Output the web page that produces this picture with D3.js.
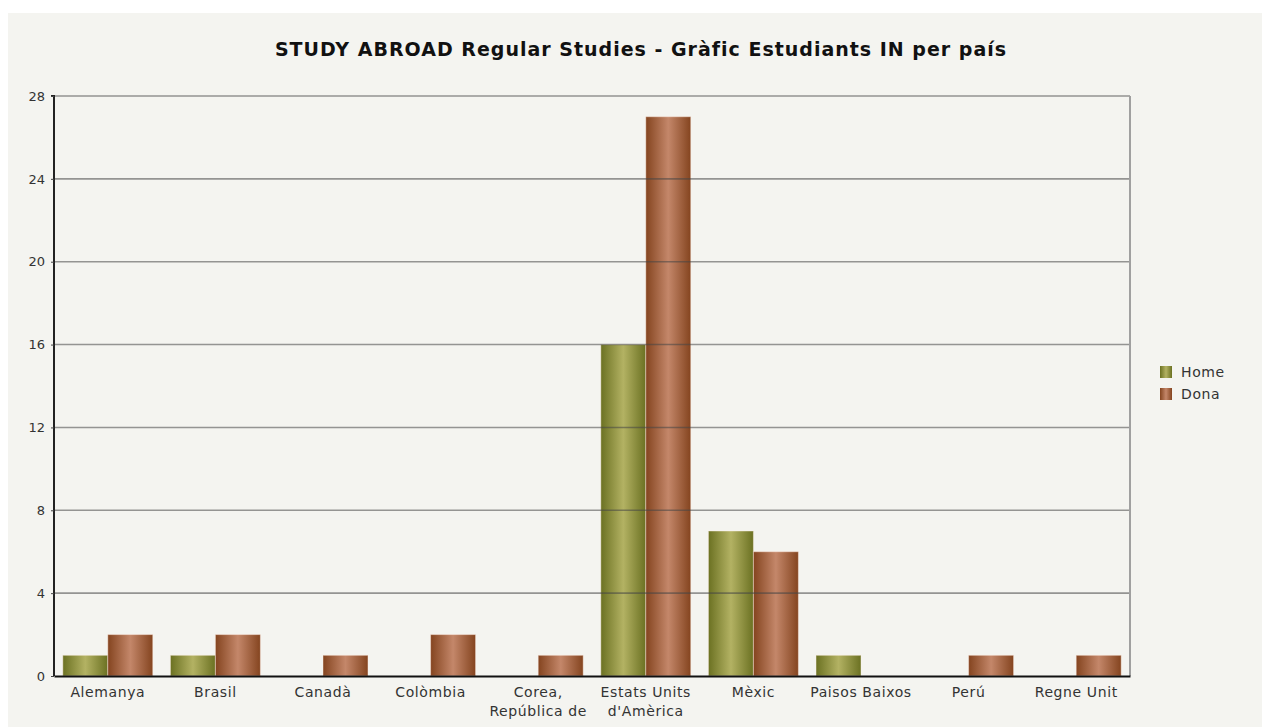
<!DOCTYPE html>
<html><head><meta charset="utf-8">
<script src="https://cdn.jsdelivr.net/npm/d3@7"></script>
<style>body{margin:0;background:#fff;}svg{display:block;}</style>
</head><body>
<svg id="c" width="1262" height="727"></svg>
<script>
const categories = [["Alemanya"],["Brasil"],["Canadà"],["Colòmbia"],["Corea,","República de"],["Estats Units","d'Amèrica"],["Mèxic"],["Paisos Baixos"],["Perú"],["Regne Unit"]];
const seriesNames = ["Home","Dona"];
const homeValues = [1,1,0,0,0,16,7,1,0,0];
const donaValues = [2,2,1,2,1,27,6,0,1,1];
const yTicks = [0,4,8,12,16,20,24,28];
const titleText = "STUDY ABROAD Regular Studies - Gràfic Estudiants IN per país";

const svg = d3.select("#c");
const W = 1262, H = 727;
const m = {left:54, right:1130, top:96, bottom:676};
const font = "Tahoma, 'DejaVu Sans', Verdana, sans-serif";

svg.append("rect").attr("x",8).attr("y",13).attr("width",W-8).attr("height",H-13).attr("fill","#f4f4f0");

const defs = svg.append("defs");
function grad(id, dark, light){
  const g = defs.append("linearGradient").attr("id",id).attr("x1","0").attr("x2","1").attr("y1","0").attr("y2","0");
  g.append("stop").attr("offset","0%").attr("stop-color",dark);
  g.append("stop").attr("offset","50%").attr("stop-color",light);
  g.append("stop").attr("offset","100%").attr("stop-color",dark);
}
grad("gHome","#6b7122","#b3b263");
grad("gDona","#84441f","#c4876a");
const fills = ["url(#gHome)","url(#gDona)"];

const idx = categories.map((d,i)=>i);
const x = d3.scaleBand().domain(idx).range([m.left,m.right]).paddingInner(0.164).paddingOuter(0.082);
const xs = d3.scaleBand().domain([0,1]).range([0,x.bandwidth()]);
const y = d3.scaleLinear().domain([0,28]).range([m.bottom,m.top]);

// bars
const data = [homeValues, donaValues];
data.forEach((vals,s)=>{
  svg.append("g").selectAll("rect").data(vals.map((v,i)=>({v,i}))).join("rect")
    .filter(d=>d.v>0)
    .attr("x",d=>x(d.i)+xs(s))
    .attr("y",d=>y(d.v))
    .attr("width",xs.bandwidth())
    .attr("height",d=>y(0)-y(d.v))
    .attr("fill",fills[s])
    .attr("stroke","rgba(255,240,230,0.45)").attr("stroke-width",1);
});

// gridlines over bars
svg.append("g").selectAll("line").data(yTicks.filter(t=>t>0)).join("line")
  .attr("x1",m.left).attr("x2",m.right)
  .attr("y1",d=>y(d)).attr("y2",d=>y(d))
  .attr("stroke","rgba(70,70,70,0.55)").attr("stroke-width",1.6);

// right border
svg.append("line").attr("x1",m.right).attr("x2",m.right).attr("y1",m.top).attr("y2",m.bottom)
  .attr("stroke","#a0a0a0").attr("stroke-width",2);

// axes
const yAxis = d3.axisLeft(y).tickValues(yTicks).tickSize(3).tickPadding(6);
const gy = svg.append("g").attr("transform",`translate(${m.left},0)`).call(yAxis);
gy.select(".domain").attr("stroke","#222").attr("stroke-width",2).attr("d",`M-3,${m.top}H0V${m.bottom}`);
gy.selectAll(".tick line").attr("stroke","#444");
gy.selectAll(".tick text").attr("font-family",font).attr("font-size",13).attr("fill","#333");

const xAxis = d3.axisBottom(x).tickSize(0).tickFormat(()=>"");
const gx = svg.append("g").attr("transform",`translate(0,${m.bottom})`).call(xAxis);
gx.select(".domain").attr("stroke","#111").attr("stroke-width",2);
gx.selectAll(".tick").each(function(d){
  const t = d3.select(this).select("text").text(null).attr("y",0).attr("dy",null)
    .attr("font-family",font).attr("font-size",14).attr("letter-spacing",0.6).attr("fill","#333");
  categories[d].forEach((ln,k)=>{
    t.append("tspan").attr("x",0).attr("y",21+k*19).text(ln);
  });
});

// title
svg.append("text").attr("x",641).attr("y",56).attr("text-anchor","middle")
  .attr("font-family",font).attr("font-weight","bold").attr("font-size",19).attr("letter-spacing",1).attr("fill","#111")
  .text(titleText);

// legend
const lg = svg.append("g").attr("transform","translate(1160,366)");
seriesNames.forEach((n,i)=>{
  const g = lg.append("g").attr("transform",`translate(0,${i*22})`);
  g.append("rect").attr("width",12).attr("height",12).attr("fill",fills[i]);
  g.append("text").attr("x",21).attr("y",11).attr("font-family",font).attr("font-size",14).attr("letter-spacing",0.6).attr("fill","#333").text(n);
});
</script>
</body></html>
